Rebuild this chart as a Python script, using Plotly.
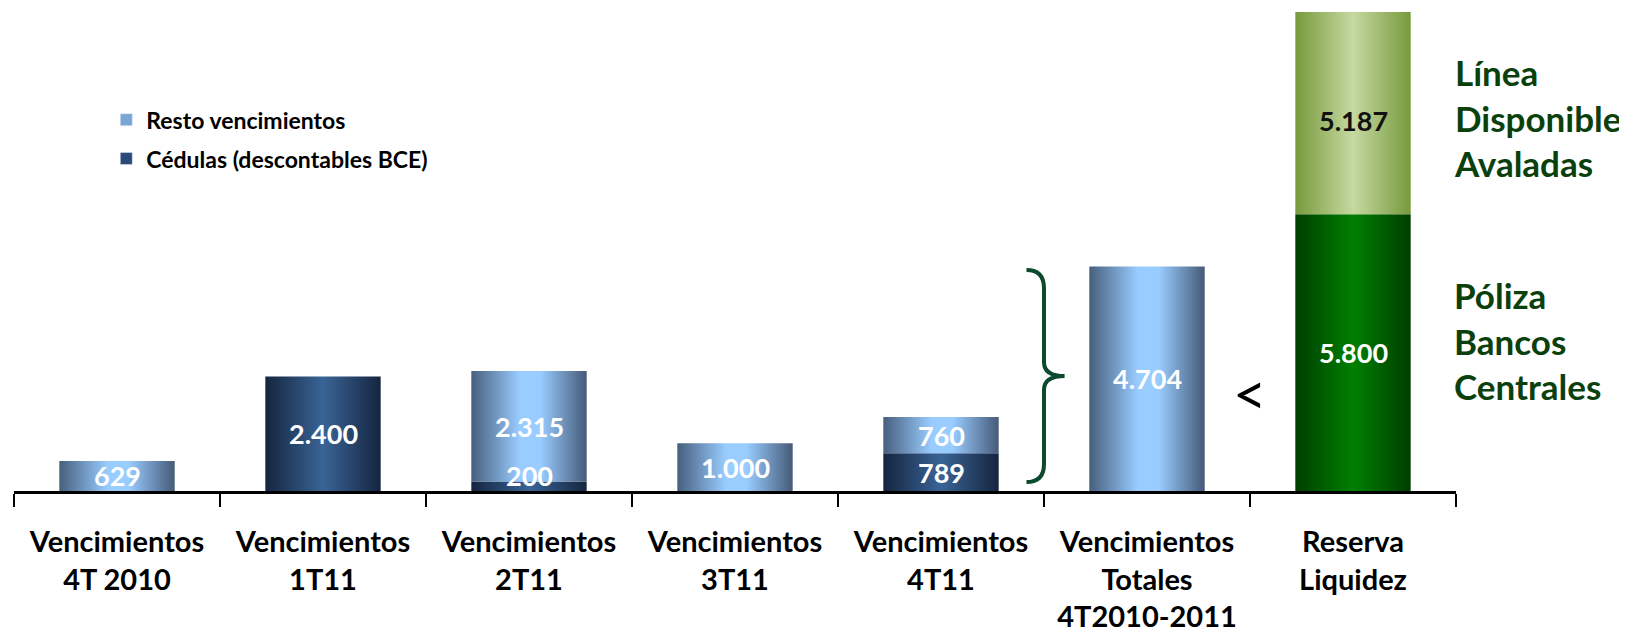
import plotly.graph_objects as go

# ---------------- data ----------------
categories = ["Vencimientos<br>4T 2010", "Vencimientos<br>1T11", "Vencimientos<br>2T11",
              "Vencimientos<br>3T11", "Vencimientos<br>4T11",
              "Vencimientos<br>Totales<br>4T2010-2011", "Reserva<br>Liquidez"]
cedulas = [0, 2400, 200, 0, 789, 0, 0]          # Cédulas (descontables BCE)
resto = [629, 0, 2315, 1000, 760, 4704, 0]      # Resto vencimientos
poliza = [0, 0, 0, 0, 0, 0, 5800]               # Póliza Bancos Centrales
linea = [0, 0, 0, 0, 0, 0, 5187]                # Línea Disponible Avaladas
legend_names = ["Resto vencimientos", "Cédulas (descontables BCE)"]
side_labels = ["Línea<br>Disponible<br>Avaladas", "Póliza<br>Bancos<br>Centrales"]

# ---------------- style ----------------
Y_MAX = 10040
BAR_W = 0.56
FONT = "Lato"
DARK_GREEN = "#0a400c"
grad = {
    "resto": [[0, "#475f7d"], [0.42, "#99ccff"], [0.6, "#99ccff"], [1, "#465a78"]],
    "cedulas": [[0, "#15253f"], [0.5, "#3a6496"], [1, "#15253f"]],
    "poliza": [[0, "#003d00"], [0.5, "#008000"], [1, "#003d00"]],
    "linea": [[0, "#779a3c"], [0.5, "#c6d9a1"], [1, "#779a3c"]],
}


def fmt(v):
    return f"{v:,}".replace(",", ".")


fig = go.Figure()
annotations = []


def add_segment(i, base, val, scale, label_color="white", yshift=0):
    x0, x1 = i - BAR_W / 2, i + BAR_W / 2
    top = base + val
    fig.add_trace(go.Scatter(
        x=[x0, x1, x1, x0, x0], y=[base, base, top, top, base],
        mode="lines", line=dict(width=0), fill="toself",
        fillgradient=dict(type="horizontal", colorscale=scale),
        showlegend=False, hoverinfo="skip"))
    vis_top = min(top, Y_MAX)
    ymid = max((base + vis_top) / 2, base + 330)
    annotations.append(dict(x=i, y=ymid, xref="x", yref="y", text=fmt(val),
                            showarrow=False, yshift=yshift,
                            font=dict(family=FONT, size=27, color=label_color, weight="bold")))


for i in range(len(categories)):
    base = 0
    if cedulas[i]:
        add_segment(i, base, cedulas[i], grad["cedulas"])
        base += cedulas[i]
    if resto[i]:
        add_segment(i, base, resto[i], grad["resto"])
        base += resto[i]
    if poliza[i]:
        add_segment(i, base, poliza[i], grad["poliza"])
        base += poliza[i]
    if linea[i]:
        add_segment(i, base, linea[i], grad["linea"], label_color="#111111", yshift=-7)
        base += linea[i]

# legend entries
fig.add_trace(go.Bar(x=[None], y=[None], name=legend_names[0], marker_color="#7aa6d6",
                     legendgroup="a"))
fig.add_trace(go.Bar(x=[None], y=[None], name=legend_names[1], marker_color="#2a4a78",
                     legendgroup="b"))

# side labels for reserve bar
ri = len(categories) - 1
annotations.append(dict(x=1.0, xref="paper", xanchor="left", xshift=-4,
                        y=(poliza[ri] + Y_MAX) / 2, yref="y", yshift=-4,
                        text=side_labels[0], showarrow=False, align="left",
                        font=dict(family=FONT, size=35, color=DARK_GREEN, weight="bold")))
annotations.append(dict(x=1.0, xref="paper", xanchor="left", xshift=-4,
                        y=poliza[ri] / 2, yref="y", yshift=12,
                        text=side_labels[1], showarrow=False, align="left",
                        font=dict(family=FONT, size=35, color=DARK_GREEN, weight="bold")))

# "<" between total and reserve
tot = resto[5]
annotations.append(dict(x=5.5, y=tot / 2, xref="x", yref="y", yshift=-14, text="<",
                        showarrow=False,
                        font=dict(family=FONT, size=58, color="black")))

# brace spanning the total
bt, bb = tot * 0.985, tot * 0.04
bm = (bt + bb) / 2
xa, xb, xc = 4.415, 4.5, 4.6
r = 380
r2 = 290
path = (f"M {xa},{bt} Q {xb},{bt} {xb},{bt - r} L {xb},{bm + r2} "
        f"Q {xb},{bm} {xc},{bm} Q {xb},{bm} {xb},{bm - r2} "
        f"L {xb},{bb + r} Q {xb},{bb} {xa},{bb}")
fig.add_shape(type="path", path=path, xref="x", yref="y",
              line=dict(color="#0b4a2c", width=4))

fig.update_layout(
    width=1619, height=625,
    margin=dict(l=6, r=171, t=4, b=142, autoexpand=False),
    plot_bgcolor="white", paper_bgcolor="white",
    annotations=annotations,
    showlegend=True,
    legend=dict(x=0.064, y=0.82, xanchor="left", yanchor="top",
                font=dict(family=FONT, size=23, color="black", weight="bold"),
                bgcolor="rgba(0,0,0,0)", tracegroupgap=6, itemwidth=30),
)
fig.update_xaxes(
    type="linear", range=[-0.5, len(categories) - 0.5], automargin=False,
    tickvals=list(range(len(categories))), ticktext=categories, ticks="",
    tickfont=dict(family=FONT, size=29, color="black", weight="bold"),
    ticklabelstandoff=23,
    showline=True, linecolor="black", linewidth=3, showgrid=False, zeroline=False,
    minor=dict(tickvals=[k - 0.5 for k in range(len(categories) + 1)], ticks="outside",
               ticklen=13, tickwidth=2, tickcolor="black", showgrid=False),
)
fig.update_yaxes(range=[0, Y_MAX], visible=False, showgrid=False, zeroline=False)

fig.write_html("out.html")
